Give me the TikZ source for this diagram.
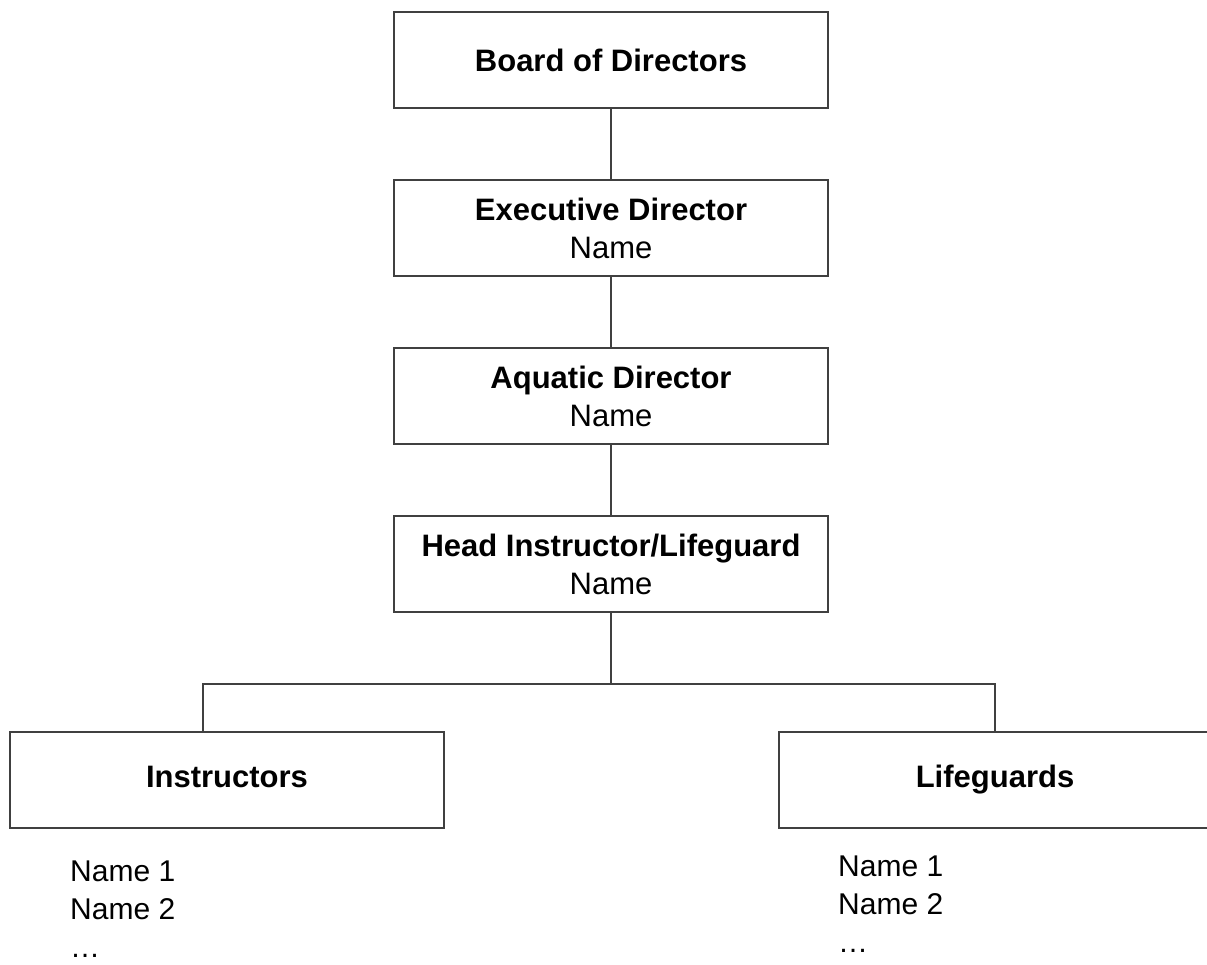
\documentclass[tikz,border=0pt]{standalone}
\usepackage{fontspec}
\setmainfont{Liberation Sans}
\tikzset{
    orgbox/.style={draw=black!75, line width=2pt, minimum width=434pt, minimum height=96pt, inner sep=0pt, align=center, font=\fontsize{31}{38}\selectfont},
    namelist/.style={anchor=north west, inner sep=0pt, align=left, font=\fontsize{30}{38}\selectfont},
    orgline/.style={draw=black!75, line width=2pt}
}
\begin{document}
\begin{tikzpicture}[x=1pt, y=-1pt]
            \useasboundingbox (0, 0) rectangle (1207, 965);
            \node[orgbox] (board) at (611, 60) {\textbf{Board of Directors}};
            \node[orgbox] (exec) at (611, 228) {\textbf{Executive Director}\\Name};
            \node[orgbox] (aquatic) at (611, 396) {\textbf{Aquatic Director}\\Name};
            \node[orgbox] (head) at (611, 564) {\textbf{Head Instructor/Lifeguard}\\Name};
            \node[orgbox, text depth=6.5pt] (instr) at (227, 780) {\textbf{Instructors}};
            \node[orgbox, text depth=6.5pt, minimum width=432pt] (life) at (995, 780) {\textbf{Lifeguards}};
            \coordinate (split) at (611, 684);
            \node[namelist] (instrnames) at (70, 861) {Name 1\\Name 2\\\ldots};
            \node[namelist] (lifenames) at (838, 856) {Name 1\\Name 2\\\ldots};
            \draw[orgline] (board) -- (exec);
            \draw[orgline] (exec) -- (aquatic);
            \draw[orgline] (aquatic) -- (head);
            \draw[orgline] (head) -- (split);
            \draw[orgline] (split) -| ([xshift=-24pt]instr.north);
            \draw[orgline] (split) -| (life.north);
        \end{tikzpicture}
\end{document}
